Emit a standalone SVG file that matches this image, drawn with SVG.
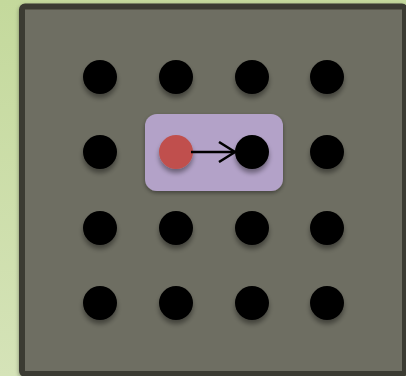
<svg xmlns="http://www.w3.org/2000/svg" width="406" height="376" viewBox="0 0 406 376">
  <defs>
    <linearGradient id="bg" x1="0" y1="0" x2="0" y2="1">
      <stop offset="0" stop-color="#c4d99c"/>
      <stop offset="1" stop-color="#d5e3b8"/>
    </linearGradient>
    <filter id="sh" x="-50%" y="-50%" width="200%" height="200%">
      <feGaussianBlur in="SourceAlpha" stdDeviation="2.5"/>
      <feOffset dx="0" dy="4" result="b"/>
      <feComponentTransfer><feFuncA type="linear" slope="0.4"/></feComponentTransfer>
      <feMerge><feMergeNode/><feMergeNode in="SourceGraphic"/></feMerge>
    </filter>
    <filter id="sh2" x="-20%" y="-20%" width="140%" height="140%">
      <feGaussianBlur in="SourceAlpha" stdDeviation="2"/>
      <feOffset dx="0" dy="2" result="b"/>
      <feComponentTransfer><feFuncA type="linear" slope="0.4"/></feComponentTransfer>
      <feMerge><feMergeNode/><feMergeNode in="SourceGraphic"/></feMerge>
    </filter>
    <style>
      .dot { fill: #000000; filter: url(#sh); }
      .red { fill: #c0504d; filter: url(#sh); }
      .conn { stroke: #000000; stroke-width: 2.5; fill: none; }
    </style>
    <marker id="arr" viewBox="0 0 20 22" refX="17" refY="11" markerWidth="20" markerHeight="22" markerUnits="userSpaceOnUse" orient="auto">
      <path d="M1,1 L17,11 L1,21" fill="none" stroke="#000000" stroke-width="2.5"/>
    </marker>
  </defs>
  <rect x="0" y="0" width="406" height="376" fill="url(#bg)"/>
  <g id="board">
    <rect x="22" y="6.5" width="383" height="367.5" rx="3" fill="#6e6e62" stroke="#3a3a33" stroke-width="6" filter="url(#sh2)"/>
  </g>
  <g id="highlight">
    <rect x="145" y="114" width="138" height="77" rx="12" fill="#b3a2c8" filter="url(#sh2)"/>
  </g>
  <g id="nodes">
    <circle id="n00" class="dot" cx="100" cy="77" r="17"/>
    <circle id="n01" class="dot" cx="176" cy="77" r="17"/>
    <circle id="n02" class="dot" cx="252" cy="77" r="17"/>
    <circle id="n03" class="dot" cx="327" cy="77" r="17"/>
    <circle id="n10" class="dot" cx="100" cy="152" r="17"/>
    <circle id="n11" class="red" cx="176" cy="152" r="17"/>
    <circle id="n12" class="dot" cx="252" cy="152" r="17"/>
    <circle id="n13" class="dot" cx="327" cy="152" r="17"/>
    <circle id="n20" class="dot" cx="100" cy="228" r="17"/>
    <circle id="n21" class="dot" cx="176" cy="228" r="17"/>
    <circle id="n22" class="dot" cx="252" cy="228" r="17"/>
    <circle id="n23" class="dot" cx="327" cy="228" r="17"/>
    <circle id="n30" class="dot" cx="100" cy="303" r="17"/>
    <circle id="n31" class="dot" cx="176" cy="303" r="17"/>
    <circle id="n32" class="dot" cx="252" cy="303" r="17"/>
    <circle id="n33" class="dot" cx="327" cy="303" r="17"/>
  </g>
  <g id="connectors">
    <line class="conn" x1="191" y1="152" x2="235" y2="152" marker-end="url(#arr)"/>
  </g>
</svg>
